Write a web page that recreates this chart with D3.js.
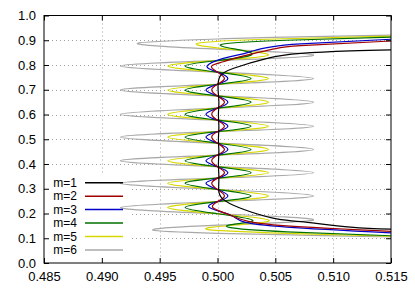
<!DOCTYPE html>
<html><head><meta charset="utf-8">
<script src="https://cdn.jsdelivr.net/npm/d3@7"></script>
<style>body{margin:0;background:#fff}svg{display:block}</style>
</head><body>
<script>
// ---- data: each series is [y, x] pairs ----
const seriesNames = ["m=1","m=2","m=3","m=4","m=5","m=6"];
const seriesColors = ["#000000","#a00000","#0000c8","#007000","#d8d800","#a8a8a8"];
const xTicks = [0.485,0.490,0.495,0.500,0.505,0.510,0.515];
const yTicks = [0.0,0.1,0.2,0.3,0.4,0.5,0.6,0.7,0.8,0.9,1.0];

const m1 = [[0.861,0.5150],[0.857,0.5115],[0.847,0.5072],[0.827,0.5043],[0.787,0.5014],[0.753,0.5002],
 [0.700,0.50005],[0.650,0.50012],[0.600,0.50008],[0.550,0.50012],[0.500,0.50008],[0.450,0.50012],[0.400,0.50008],
 [0.350,0.50012],[0.300,0.5001],[0.261,0.5004],[0.221,0.5020],[0.181,0.5048],[0.167,0.5072],[0.145,0.5115],[0.137,0.5150]];
const m2 = [[0.897,0.5150],[0.878,0.5072],[0.865,0.5049],[0.834,0.5020],[0.813,0.5005],[0.796,0.4995],
 [0.771,0.5000],[0.745,0.5006],[0.722,0.5000],[0.699,0.4995],[0.675,0.5000],[0.650,0.5006],[0.626,0.5000],
 [0.601,0.4995],[0.577,0.5000],[0.553,0.5006],[0.531,0.5000],[0.509,0.4995],[0.484,0.5000],[0.459,0.5006],
 [0.436,0.5000],[0.413,0.4995],[0.389,0.5000],[0.365,0.5006],[0.343,0.5000],[0.322,0.4995],[0.297,0.5000],
 [0.271,0.5006],[0.248,0.5000],[0.224,0.4996],[0.199,0.5008],[0.170,0.5025],[0.150,0.5060],[0.128,0.5150]];
const m3 = [[0.904,0.5150],[0.885,0.5072],[0.874,0.5048],[0.861,0.5034],[0.843,0.5020],[0.827,0.5005],[0.796,0.4991],
 [0.771,0.5000],[0.745,0.5009],[0.722,0.5000],[0.699,0.4990],[0.675,0.5000],[0.650,0.5009],[0.626,0.5000],
 [0.601,0.4990],[0.577,0.5000],[0.553,0.5009],[0.531,0.5000],[0.509,0.4990],[0.484,0.5000],[0.459,0.5009],
 [0.436,0.5000],[0.413,0.4990],[0.389,0.5000],[0.365,0.5009],[0.343,0.5000],[0.322,0.4990],[0.297,0.5000],
 [0.271,0.5009],[0.248,0.5000],[0.224,0.4993],[0.194,0.5011],[0.167,0.5022],[0.145,0.5060],[0.122,0.5150]];
const m4 = [[0.913,0.5150],[0.900,0.5060],[0.884,0.5004],[0.862,0.5018],[0.840,0.5029],[0.818,0.5000],[0.796,0.4972],
 [0.771,0.5000],[0.745,0.5029],[0.722,0.5000],[0.699,0.4972],[0.675,0.5000],[0.650,0.5029],[0.626,0.5000],
 [0.601,0.4972],[0.577,0.5000],[0.553,0.5029],[0.531,0.5000],[0.509,0.4972],[0.484,0.5000],[0.459,0.5029],
 [0.436,0.5000],[0.413,0.4972],[0.389,0.5000],[0.365,0.5029],[0.343,0.5000],[0.322,0.4972],[0.297,0.5000],
 [0.271,0.5029],[0.248,0.5000],[0.224,0.4972],[0.199,0.5000],[0.174,0.5030],[0.159,0.5018],[0.144,0.5010],
 [0.126,0.5060],[0.110,0.5150]];
const m5 = [[0.917,0.5150],[0.905,0.5050],[0.888,0.4983],[0.864,0.5010],[0.840,0.5044],[0.818,0.5000],[0.796,0.4957],
 [0.771,0.5000],[0.745,0.5044],[0.722,0.5000],[0.699,0.4957],[0.675,0.5000],[0.650,0.5044],[0.626,0.5000],
 [0.601,0.4957],[0.577,0.5000],[0.553,0.5044],[0.531,0.5000],[0.509,0.4957],[0.484,0.5000],[0.459,0.5044],
 [0.436,0.5000],[0.413,0.4957],[0.389,0.5000],[0.365,0.5044],[0.343,0.5000],[0.322,0.4957],[0.297,0.5000],
 [0.271,0.5044],[0.248,0.5000],[0.224,0.4957],[0.199,0.5000],[0.174,0.5044],[0.155,0.5020],[0.136,0.4991],
 [0.120,0.5060],[0.108,0.5150]];
const m6 = [[0.922,0.5160],[0.912,0.5048],[0.905,0.5000],[0.888,0.4931],[0.864,0.5000],[0.840,0.5083],[0.818,0.5000],[0.796,0.4916],
 [0.771,0.5000],[0.745,0.5083],[0.722,0.5000],[0.699,0.4916],[0.675,0.5000],[0.650,0.5083],[0.626,0.5000],
 [0.601,0.4916],[0.577,0.5000],[0.553,0.5083],[0.531,0.5000],[0.509,0.4916],[0.484,0.5000],[0.459,0.5083],
 [0.436,0.5000],[0.413,0.4916],[0.389,0.5000],[0.365,0.5083],[0.343,0.5000],[0.322,0.4916],[0.297,0.5000],
 [0.271,0.5083],[0.248,0.5000],[0.224,0.4916],[0.199,0.5000],[0.174,0.5083],[0.153,0.5000],[0.133,0.4944],
 [0.120,0.5000],[0.112,0.5080],[0.104,0.5160]];
const allSeries = [m1,m2,m3,m4,m5,m6];

// ---- layout ----
const W = 415, H = 290;
const L = 44, R = 391, T = 15.5, B = 263;
const x = d3.scaleLinear().domain([0.485,0.515]).range([L,R]);
const y = d3.scaleLinear().domain([0,1]).range([B,T]);
const svg = d3.select("body").append("svg").attr("width",W).attr("height",H);
const font = "'Liberation Sans', Arial, sans-serif";

svg.append("clipPath").attr("id","clip").append("rect")
  .attr("x",L).attr("y",T).attr("width",R-L).attr("height",B-T);

// grid
const grid = svg.append("g").attr("stroke","#a0a0a0").attr("stroke-width",1).attr("stroke-dasharray","1,3");
grid.selectAll("line.gx").data(xTicks.slice(1,-1)).join("line")
  .attr("x1",d=>Math.round(x(d))+0.5).attr("x2",d=>Math.round(x(d))+0.5).attr("y1",T).attr("y2",B);
grid.selectAll("line.gy").data(yTicks.slice(1,-1)).join("line")
  .attr("y1",d=>Math.round(y(d))+0.5).attr("y2",d=>Math.round(y(d))+0.5).attr("x1",L).attr("x2",R);

// key box (opaque, hides grid)
const keyX = L+1, keyY = 175, keyW = 87, keyH = B-175;
svg.append("rect").attr("x",keyX).attr("y",keyY).attr("width",keyW).attr("height",keyH-1).attr("fill","#fff");

// curves (higher m drawn first)
const line = d3.line().x(d=>x(d[1])).y(d=>y(d[0])).curve(d3.curveNatural);
const gc = svg.append("g").attr("clip-path","url(#clip)");
for (let i = allSeries.length-1; i>=0; i--) {
  gc.append("path").attr("d",line(allSeries[i])).attr("fill","none")
    .attr("stroke",seriesColors[i]).attr("stroke-width",1.2);
}

// axes
const xAxisB = d3.axisBottom(x).tickValues(xTicks).tickFormat(d3.format(".3f")).tickSizeInner(-5).tickSizeOuter(0).tickPadding(9);
const xAxisT = d3.axisTop(x).tickValues(xTicks).tickFormat("").tickSizeInner(-5).tickSizeOuter(0);
const yAxisL = d3.axisLeft(y).tickValues(yTicks).tickFormat(d3.format(".1f")).tickSizeInner(-5).tickSizeOuter(0).tickPadding(8);
const yAxisR = d3.axisRight(y).tickValues(yTicks).tickFormat("").tickSizeInner(-5).tickSizeOuter(0);
function styleAxis(g){ g.select(".domain").remove(); g.selectAll("line").attr("stroke","#000");
  g.selectAll("text").attr("font-family",font).attr("font-size",13).attr("fill","#000"); }
svg.append("g").attr("transform",`translate(0,${B})`).call(xAxisB).call(styleAxis);
svg.append("g").attr("transform",`translate(0,${T})`).call(xAxisT).call(styleAxis);
svg.append("g").attr("transform",`translate(${L},0)`).call(yAxisL).call(styleAxis);
svg.append("g").attr("transform",`translate(${R},0)`).call(yAxisR).call(styleAxis);

// border
svg.append("rect").attr("x",L).attr("y",T).attr("width",R-L).attr("height",B-T)
  .attr("fill","none").attr("stroke","#000").attr("stroke-width",1);

// legend
const lg = svg.append("g");
seriesNames.forEach((n,i)=>{
  const yy = 182.7 + i*13.45;
  lg.append("text").attr("x",77).attr("y",yy).attr("dy","0.35em").attr("text-anchor","end")
    .attr("font-family",font).attr("font-size",12).text(n);
  lg.append("line").attr("x1",85).attr("x2",123).attr("y1",yy).attr("y2",yy)
    .attr("stroke",seriesColors[i]).attr("stroke-width",1.5);
});
</script>
</body></html>
